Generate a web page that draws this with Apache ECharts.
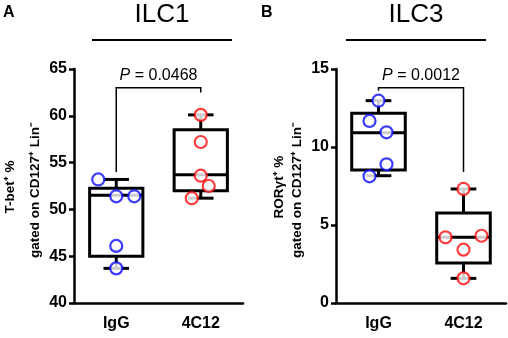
<!DOCTYPE html>
<html>
<head>
<meta charset="utf-8">
<script src="https://cdn.jsdelivr.net/npm/echarts@6/dist/echarts.min.js"></script>
<style>
html,body{margin:0;padding:0;background:#fff;}
#c{width:508px;height:338px;}
</style>
</head>
<body>
<div id="c"></div>
<script>
// ---- data ----
const categories = ['IgG', '4C12'];
const panelTitles = ['ILC1', 'ILC3'];
const panelLetters = ['A', 'B'];
const yTitleLine1 = ['T-bet\u207A %', 'ROR\u03B3t\u207A %'];
const yTitleLine2 = ['gated on CD127\u207A Lin\u207B', 'gated on CD127\u207A Lin\u207B'];
const pLabels = ['P = 0.0468', 'P = 0.0012'];

// box stats: [min, q1, median, q3, max]
const boxA_IgG = [43.7, 45.0, 51.5, 52.25, 53.2];
const boxA_4C12 = [51.2, 52.0, 53.7, 58.5, 60.1];
const boxB_IgG = [8.16, 8.53, 10.92, 12.16, 12.97];
const boxB_4C12 = [1.58, 2.56, 4.21, 5.77, 7.31];

// individual points
const ptsA_IgG = [53.2, 51.4, 51.4, 46.1, 43.7];
const ptsA_4C12 = [60.1, 57.2, 53.6, 52.5, 51.2];
const ptsB_IgG = [12.97, 11.67, 10.94, 8.89, 8.12];
const ptsB_4C12 = [7.31, 4.21, 4.31, 3.42, 1.58];

// significance brackets: [top, left leg end, right leg end]
const bracketA = [63.0, 54.0, 62.5];
const bracketB = [13.8, 13.6, 8.4];

// y-axis ranges
const yMinA = 40, yMaxA = 65, yStepA = 5;
const yMinB = 0, yMaxB = 15, yStepB = 5;

// ---- styling (pixel jitter of points, not data) ----
const jitA_IgG = [-18, 0, 18, 0, 0];
const jitA_4C12 = [0, 0, 0, 8, -9];
const jitB_IgG = [0, -9, 8, 8, -9];
const jitB_4C12 = [0, -18, 18, 0, 0];

const FONT = 'Liberation Sans, Arial, sans-serif';
const BLUE = '#0a0aff';
const RED = '#ff0a0a';

const chart = echarts.init(document.getElementById('c'), null, {renderer: 'canvas'});

function boxRender(params, api) {
  const x = api.value(0);
  const mn = api.coord([x, api.value(1)]);
  const q1 = api.coord([x, api.value(2)]);
  const md = api.coord([x, api.value(3)]);
  const q3 = api.coord([x, api.value(4)]);
  const mx = api.coord([x, api.value(5)]);
  const bw = api.size([1, 0])[0] * 0.63;
  const cw = bw * 0.48;
  const cx = q1[0];
  const st = {stroke: '#000', lineWidth: 3, fill: null};
  return {
    type: 'group',
    children: [
      {type: 'line', shape: {x1: cx, y1: q3[1], x2: cx, y2: mx[1]}, style: st},
      {type: 'line', shape: {x1: cx, y1: q1[1], x2: cx, y2: mn[1]}, style: st},
      {type: 'line', shape: {x1: cx - cw / 2, y1: mx[1], x2: cx + cw / 2, y2: mx[1]}, style: st},
      {type: 'line', shape: {x1: cx - cw / 2, y1: mn[1], x2: cx + cw / 2, y2: mn[1]}, style: st},
      {type: 'rect', shape: {x: cx - bw / 2, y: q3[1], width: bw, height: q1[1] - q3[1]}, style: {stroke: '#000', lineWidth: 3, fill: '#fff'}},
      {type: 'line', shape: {x1: cx - bw / 2, y1: md[1], x2: cx + bw / 2, y2: md[1]}, style: st}
    ]
  };
}

function bracketRender(params, api) {
  const top = api.value(2), le = api.value(3), re = api.value(4);
  const a = api.coord([api.value(0), le]);
  const b = api.coord([api.value(0), top]);
  const c = api.coord([api.value(1), top]);
  const d = api.coord([api.value(1), re]);
  const label = params.seriesIndex === 3 ? pLabels[0] : pLabels[1];
  return {
    type: 'group',
    children: [
      {type: 'polyline', shape: {points: [a, b, c, d]}, style: {stroke: '#000', lineWidth: 1.5, fill: null}},
      {type: 'text', x: (b[0] + c[0]) / 2, y: b[1] - 4, style: {
        text: '{i|P}' + label.slice(1), textAlign: 'center', textVerticalAlign: 'bottom',
        font: '16px ' + FONT, fill: '#000',
        rich: {i: {fontStyle: 'italic', fontSize: 16, fontFamily: FONT}}
      }}
    ]
  };
}

function pts(vals, jit, cat, color) {
  return vals.map((v, i) => ({
    value: [cat, v],
    symbolOffset: [jit[i], 0],
    itemStyle: {color: '#fff', borderColor: color, borderWidth: 2.2}
  }));
}

function xAxis(gi) {
  return {
    type: 'category', gridIndex: gi, data: categories, boundaryGap: true,
    axisLine: {lineStyle: {color: '#000', width: 2.5}},
    axisTick: {alignWithLabel: true, length: 5, lineStyle: {color: '#000', width: 2.5}},
    axisLabel: {color: '#000', fontFamily: FONT, fontWeight: 'bold', fontSize: 16, margin: 13},
    splitLine: {show: false}
  };
}
function yAxis(gi, mn, mx, step) {
  return {
    type: 'value', gridIndex: gi, min: mn, max: mx, interval: step,
    axisLine: {show: true, lineStyle: {color: '#000', width: 2.5}},
    axisTick: {show: true, length: 5, lineStyle: {color: '#000', width: 2.5}},
    axisLabel: {color: '#000', fontFamily: FONT, fontWeight: 'bold', fontSize: 16, margin: 7},
    splitLine: {show: false}
  };
}

const graphics = [];
const titleX = [162, 416];
const ulX = [[92, 232], [346, 486]];
const letterX = [3, 261];
const yt1X = [10, 279];
const yt2X = [35, 297];
for (let k = 0; k < 2; k++) {
  graphics.push({type: 'text', left: letterX[k], top: 5, style: {text: panelLetters[k], font: 'bold 16px ' + FONT, fill: '#000'}});
  graphics.push({type: 'text', x: titleX[k], y: 15, style: {text: panelTitles[k], font: '26px ' + FONT, fill: '#000', textAlign: 'center', textVerticalAlign: 'middle'}});
  graphics.push({type: 'line', shape: {x1: ulX[k][0], y1: 40, x2: ulX[k][1], y2: 40}, style: {stroke: '#000', lineWidth: 2}});
  graphics.push({type: 'text', x: yt1X[k], y: 187, rotation: Math.PI / 2, style: {text: yTitleLine1[k], font: 'bold 13.5px ' + FONT, fill: '#000', textAlign: 'center', textVerticalAlign: 'middle'}});
  graphics.push({type: 'text', x: yt2X[k], y: 190, rotation: Math.PI / 2, style: {text: yTitleLine2[k], font: 'bold 13.5px ' + FONT, fill: '#000', textAlign: 'center', textVerticalAlign: 'middle'}});
}

chart.setOption({
  animation: false,
  grid: [
    {left: 74, top: 69, width: 169, height: 234},
    {left: 336, top: 69, width: 170, height: 234}
  ],
  xAxis: [xAxis(0), xAxis(1)],
  yAxis: [yAxis(0, yMinA, yMaxA, yStepA), yAxis(1, yMinB, yMaxB, yStepB)],
  graphic: graphics,
  series: [
    {type: 'custom', xAxisIndex: 0, yAxisIndex: 0, renderItem: boxRender, z: 2,
     data: [[0].concat(boxA_IgG), [1].concat(boxA_4C12)]},
    {type: 'custom', xAxisIndex: 1, yAxisIndex: 1, renderItem: boxRender, z: 2,
     data: [[0].concat(boxB_IgG), [1].concat(boxB_4C12)]},
    {type: 'scatter', xAxisIndex: 0, yAxisIndex: 0, symbol: 'circle', symbolSize: 12, z: 5,
     data: pts(ptsA_IgG, jitA_IgG, 0, BLUE).concat(pts(ptsA_4C12, jitA_4C12, 1, RED))},
    {type: 'custom', xAxisIndex: 0, yAxisIndex: 0, renderItem: bracketRender, z: 3, clip: false,
     data: [[0, 1].concat(bracketA)]},
    {type: 'custom', xAxisIndex: 1, yAxisIndex: 1, renderItem: bracketRender, z: 3, clip: false,
     data: [[0, 1].concat(bracketB)]},
    {type: 'scatter', xAxisIndex: 1, yAxisIndex: 1, symbol: 'circle', symbolSize: 12, z: 5,
     data: pts(ptsB_IgG, jitB_IgG, 0, BLUE).concat(pts(ptsB_4C12, jitB_4C12, 1, RED))}
  ]
});
</script>
</body>
</html>
